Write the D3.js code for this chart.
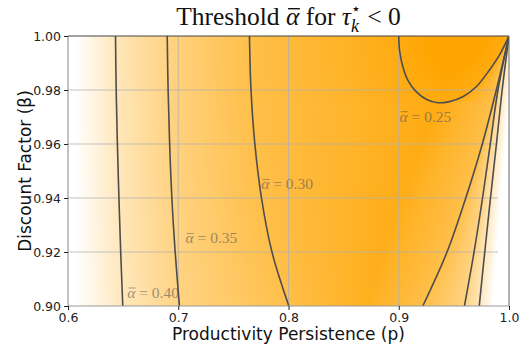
<!DOCTYPE html>
<html>
<head>
<meta charset="utf-8">
<script src="https://cdn.jsdelivr.net/npm/d3@7"></script>
<style>
  body { margin: 0; background: #ffffff; }
  svg { display: block; }
</style>
</head>
<body>
<svg id="chart" width="521" height="347"></svg>
<script>
// ---- data -------------------------------------------------------------
// threshold levels drawn as contours
const levels = [0.40, 0.35, 0.30, 0.25];
const xTicks = [0.6, 0.7, 0.8, 0.9, 1.0];
const yTicks = [0.90, 0.92, 0.94, 0.96, 0.98, 1.00];

// contour branches, points are [p, beta]
const contour40Left = [[0.6431, 1.00], [0.6437, 0.98], [0.6448, 0.96], [0.6462, 0.94], [0.6478, 0.92], [0.6497, 0.90]];
const contour35Left = [[0.6900, 1.00], [0.6908, 0.98], [0.6922, 0.96], [0.6942, 0.94], [0.6972, 0.92], [0.7011, 0.90]];
const contour30Left = [[0.7646, 1.00], [0.7660, 0.98], [0.7695, 0.96], [0.7755, 0.94], [0.7850, 0.92], [0.8003, 0.90]];
const contour25Loop = [[0.9000, 1.0000], [0.9007, 0.9948], [0.9037, 0.9886], [0.9082, 0.9837],
                       [0.9158, 0.9794], [0.9249, 0.9766], [0.9354, 0.9753], [0.9460, 0.9757],
                       [0.9581, 0.9775], [0.9703, 0.9812], [0.9823, 0.9874], [0.9914, 0.9930],
                       [1.0000, 1.0000]];
const contour30Right = [[1.0000, 1.00], [0.9885, 0.98], [0.9758, 0.96], [0.9608, 0.94],
                        [0.9438, 0.92], [0.9218, 0.90]];
const contour35Right = [[1.0000, 1.00], [0.9900, 0.98], [0.9830, 0.96], [0.9760, 0.94],
                        [0.9683, 0.92], [0.9596, 0.90]];
const contour40Right = [[1.0000, 1.00], [0.9938, 0.98], [0.9886, 0.96], [0.9832, 0.94],
                        [0.9780, 0.92], [0.9730, 0.90]];

// lowest threshold along the trough of the surface: [p, beta, alpha]
const troughAlpha = [[0.870, 0.90, 0.262], [0.900, 0.94, 0.255], [0.9354, 0.9753, 0.250],
                     [0.950, 0.99, 0.228], [0.960, 1.00, 0.215]];
// threshold at the plot edges: [beta, alpha]
const leftEdgeAlpha = [[0.90, 0.47], [1.00, 0.47]];
const rightEdgeAlpha = [[0.90, 0.53], [0.94, 0.51], [0.97, 0.47], [0.99, 0.43], [1.00, 0.40]];

// ---- layout -----------------------------------------------------------
const labelSpots = [
  { level: 0.40, p: 0.6537, b: 0.9030 },
  { level: 0.35, p: 0.7066, b: 0.9232 },
  { level: 0.30, p: 0.7752, b: 0.9432 },
  { level: 0.25, p: 0.9007, b: 0.9683 }
];

const svg = d3.select("#chart");
const x = d3.scaleLinear().domain([0.6, 1.0]).range([68, 509]);
const y = d3.scaleLinear().domain([0.90, 1.00]).range([306, 36]);
const color = d3.scaleLinear().domain([0.235, 0.46]).range(["#ffa500", "#ffffff"]).clamp(true);

// ---- threshold surface -------------------------------------------------
function crossing(branch, b) {
  for (let i = 0; i < branch.length - 1; i++) {
    const [p0, b0] = branch[i], [p1, b1] = branch[i + 1];
    const lo = Math.min(b0, b1), hi = Math.max(b0, b1);
    if (b >= lo && b <= hi && hi > lo) {
      return p0 + (p1 - p0) * (b - b0) / (b1 - b0);
    }
  }
  return null;
}
function byBeta(arr, b, idx) {
  const s = arr.slice().sort((u, v) => u[0] - v[0]);
  if (b <= s[0][0]) return s[0][idx];
  for (let i = 0; i < s.length - 1; i++) {
    if (b <= s[i + 1][0]) {
      const t = (b - s[i][0]) / (s[i + 1][0] - s[i][0]);
      return s[i][idx] + t * (s[i + 1][idx] - s[i][idx]);
    }
  }
  return s[s.length - 1][idx];
}
const loopBottom = d3.minIndex(contour25Loop, d => d[1]);
const contour25Left = contour25Loop.slice(0, loopBottom + 1);
const contour25Right = contour25Loop.slice(loopBottom);

function rowKnots(b) {
  const left = [[0.6, byBeta(leftEdgeAlpha, b, 1)]];
  [[contour40Left, levels[0]], [contour35Left, levels[1]], [contour30Left, levels[2]], [contour25Left, levels[3]]]
    .forEach(([br, lv]) => { const c = crossing(br, b); if (c !== null) left.push([c, lv]); });
  const right = [];
  [[contour25Right, levels[3]], [contour30Right, levels[2]], [contour35Right, levels[1]], [contour40Right, levels[0]]]
    .forEach(([br, lv]) => { const c = crossing(br, b); if (c !== null) right.push([c, lv]); });
  right.sort((u, v) => u[0] - v[0]);
  right.push([1.0, byBeta(rightEdgeAlpha, b, 1)]);
  const tr = troughAlpha.map(d => [d[1], d[0], d[2]]);
  const lo = left[left.length - 1][0], hi = right[0][0];
  let vp = byBeta(tr, b, 1);
  const va = byBeta(tr, b, 2);
  vp = Math.max(lo + 0.15 * (hi - lo), Math.min(hi - 0.15 * (hi - lo), vp));
  return left.concat([[vp, va]], right);
}
function alphaAt(knots, p) {
  if (p <= knots[0][0]) return knots[0][1];
  for (let i = 0; i < knots.length - 1; i++) {
    const [p0, a0] = knots[i], [p1, a1] = knots[i + 1];
    if (p <= p1) return p1 > p0 ? a0 + (a1 - a0) * (p - p0) / (p1 - p0) : a1;
  }
  return knots[knots.length - 1][1];
}

const px0 = x.range()[0], px1 = x.range()[1], py0 = y.range()[1], py1 = y.range()[0];
const iw = px1 - px0, ih = py1 - py0;
const canvas = document.createElement("canvas");
canvas.width = iw; canvas.height = ih;
const ctx = canvas.getContext("2d");
const img = ctx.createImageData(iw, ih);
for (let r = 0; r < ih; r++) {
  const b = y.invert(py0 + r + 0.5);
  const knots = rowKnots(b);
  for (let c = 0; c < iw; c++) {
    const p = x.invert(px0 + c + 0.5);
    const col = d3.rgb(color(alphaAt(knots, p)));
    const k = (r * iw + c) * 4;
    img.data[k] = col.r; img.data[k + 1] = col.g; img.data[k + 2] = col.b; img.data[k + 3] = 255;
  }
}
ctx.putImageData(img, 0, 0);
svg.append("image")
  .attr("x", px0).attr("y", py0).attr("width", iw).attr("height", ih)
  .attr("preserveAspectRatio", "none")
  .attr("href", canvas.toDataURL());

// ---- grid ---------------------------------------------------------------
const grid = svg.append("g").attr("stroke", "#b0b0b0").attr("stroke-width", 1).attr("opacity", 0.75);
grid.selectAll("line.v").data(xTicks.slice(1, -1)).join("line")
  .attr("x1", d => x(d)).attr("x2", d => x(d)).attr("y1", py0).attr("y2", py1);
grid.selectAll("line.h").data(yTicks.slice(1, -1)).join("line")
  .attr("x1", px0).attr("x2", x(0.99)).attr("y1", d => y(d)).attr("y2", d => y(d));

// ---- contours -------------------------------------------------------------
svg.append("clipPath").attr("id", "plotClip").append("rect")
  .attr("x", px0).attr("y", py0).attr("width", iw).attr("height", ih);
const line = d3.line().x(d => x(d[0])).y(d => y(d[1])).curve(d3.curveCatmullRom.alpha(0.5));
const branches = [contour40Left, contour35Left, contour30Left, contour25Loop,
                  contour30Right, contour35Right, contour40Right];
svg.append("g").attr("clip-path", "url(#plotClip)")
  .selectAll("path").data(branches).join("path")
  .attr("d", line).attr("fill", "none")
  .attr("stroke", "#4d4d4d").attr("stroke-width", 1.6).attr("stroke-linejoin", "round");

// ---- math text helper --------------------------------------------------------
const serif = "'Liberation Serif', 'DejaVu Serif', serif";
function mathText(g, pieces, size) {
  // pieces: {t, italic, scale, dy, overline, stackBack}
  let cx = 0;
  let lastW = 0;
  pieces.forEach(pc => {
    const fs = size * (pc.scale || 1);
    if (pc.stackBack) cx -= lastW;
    const t = g.append("text")
      .attr("x", cx).attr("y", (pc.dy || 0) * size)
      .attr("font-family", pc.font || serif)
      .attr("font-size", fs)
      .attr("font-style", pc.italic ? "italic" : "normal")
      .attr("xml:space", "preserve")
      .style("white-space", "pre")
      .text(pc.t);
    const w = t.node().getComputedTextLength();
    if (pc.overline) {
      g.append("line")
        .attr("x1", cx + 0.08 * size).attr("x2", cx + w + 0.02 * size)
        .attr("y1", -0.64 * size).attr("y2", -0.64 * size)
        .attr("stroke", "currentColor").attr("stroke-width", Math.max(0.8, size * 0.055));
    }
    if (pc.stackBack) { cx += Math.max(w, lastW); }
    else { cx += w; }
    lastW = w;
  });
  return cx;
}

// ---- contour labels -------------------------------------------------------
const fmt2 = d3.format(".2f");
labelSpots.forEach(s => {
  const g = svg.append("g")
    .attr("transform", `translate(${x(s.p)},${y(s.b)})`)
    .attr("fill", "#5a5a5a").attr("color", "#5a5a5a").attr("opacity", 0.6);
  mathText(g, [
    { t: "α", italic: true, overline: true },
    { t: " = " + fmt2(s.level) }
  ], 15.5);
});

// ---- title -----------------------------------------------------------------
const titleG = svg.append("g").attr("fill", "#111").attr("color", "#111");
const tw = mathText(titleG, [
  { t: "Threshold " },
  { t: "α", italic: true, overline: true },
  { t: " for " },
  { t: "τ", italic: true },
  { t: "⋆", scale: 0.62, dy: -0.45, font: "'DejaVu Sans', sans-serif" },
  { t: "k", italic: true, scale: 0.7, dy: 0.28, stackBack: true },
  { t: " < 0" }
], 25.5);
titleG.attr("transform", `translate(${(px0 + px1) / 2 - tw / 2},25)`);

// ---- spines, ticks, labels --------------------------------------------------
const sans = "'DejaVu Sans', sans-serif";
const spines = svg.append("g").attr("fill", "none").attr("stroke-width", 1);
spines.append("line").attr("x1", px0).attr("x2", px1).attr("y1", py0).attr("y2", py0).attr("stroke", "#444");
spines.append("line").attr("x1", px1).attr("x2", px1).attr("y1", py0).attr("y2", py1).attr("stroke", "#666");
spines.append("line").attr("x1", px0).attr("x2", px0).attr("y1", py0).attr("y2", py1).attr("stroke", "#888");
spines.append("line").attr("x1", px0).attr("x2", px1).attr("y1", py1).attr("y2", py1).attr("stroke", "#999");

const xAxis = svg.append("g").attr("transform", `translate(0,${py1})`)
  .call(d3.axisBottom(x).tickValues(xTicks).tickFormat(d3.format(".1f")).tickSize(4).tickPadding(3));
const yAxis = svg.append("g").attr("transform", `translate(${px0},0)`)
  .call(d3.axisLeft(y).tickValues(yTicks).tickFormat(d3.format(".2f")).tickSize(4).tickPadding(3));
[xAxis, yAxis].forEach(a => {
  a.select(".domain").remove();
  a.selectAll(".tick line").attr("stroke", "#222").attr("stroke-width", 1);
  a.selectAll(".tick text").attr("font-family", sans).attr("font-size", 12.5).attr("fill", "#222");
});

svg.append("text")
  .attr("x", (px0 + px1) / 2).attr("y", 340)
  .attr("text-anchor", "middle")
  .attr("font-family", sans).attr("font-size", 17).attr("fill", "#111")
  .text("Productivity Persistence (p)");
svg.append("text")
  .attr("transform", `translate(31,${(py0 + py1) / 2}) rotate(-90)`)
  .attr("text-anchor", "middle")
  .attr("font-family", sans).attr("font-size", 17).attr("fill", "#111")
  .text("Discount Factor (β)");
</script>
</body>
</html>
